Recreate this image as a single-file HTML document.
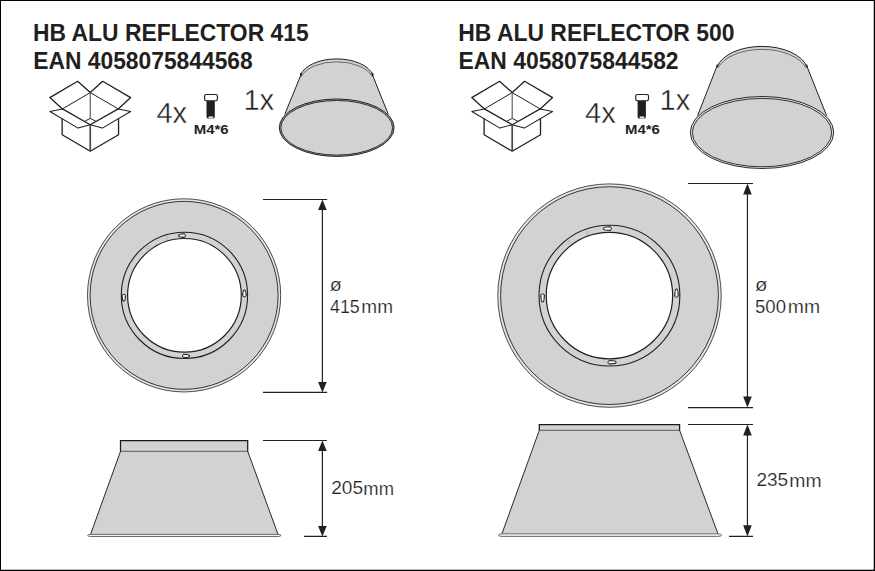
<!DOCTYPE html>
<html>
<head>
<meta charset="utf-8">
<title>HB ALU REFLECTOR</title>
<style>
html,body{margin:0;padding:0;background:#fff;}
body{width:875px;height:571px;overflow:hidden;font-family:"Liberation Sans",sans-serif;}
svg{display:block;}
text{font-family:"Liberation Sans",sans-serif;fill:#231f20;}
.h{font-weight:bold;font-size:23.4px;}
.q{font-size:27.8px;}
.d{font-size:18.3px;}
.m{font-weight:bold;font-size:12px;}
.ln{stroke:#231f20;stroke-width:1.2;fill:none;}
.g{fill:#d1d2d4;}
</style>
</head>
<body>
<svg width="875" height="571" viewBox="0 0 875 571">
<defs>
  <!-- open cardboard box icon, centre x = 0 -->
  <g id="box" fill="none" stroke="#231f20" stroke-linejoin="round" stroke-linecap="round">
    <path stroke-width="1.3" d="M0,92.6 L-12.6,81.3 L-40.4,97.6 L-27.8,108.9 L0,124.7 L28,108.9 L40.4,97.6 L12.4,81.3 Z"/>
    <path stroke-width="1" d="M-27.8,108.9 L0,92.6 L28,108.9"/>
    <path stroke-width="1.05" d="M-27.8,108.9 L-40.4,111.5 L-12.2,128.1 L0,124.7 L12.1,128.1 L40.4,111.5 L28,108.9"/>
    <path stroke-width="1" d="M-5.2,121.1 L0,118.4 L5.3,121.1"/>
    <path stroke-width="1.3" d="M-28.1,118.9 L-28.1,134.8 L0,151.2 L28.3,134.8 L28.3,118.9"/>
    <path stroke-width="1.15" stroke="#5a5a5c" stroke-linecap="butt" d="M0,92.8 L0,118.4"/>
    <path stroke-width="1.7" stroke="#4a4a4c" stroke-linecap="butt" d="M0,124.9 L0,151"/>
  </g>
  <!-- screw icon, centre x = 0 -->
  <g id="screw">
    <path d="M-4.5,100.6 H3.8 V116.4 Q3.8,118.6 1.9,118.6 H-2.6 Q-4.5,118.6 -4.5,116.4 Z" fill="#231f20"/>
    <path d="M-2.5,116.5 H2.2 V117.3 Q2.2,118.2 1.3,118.2 H-1.6 Q-2.5,118.2 -2.5,117.3 Z" fill="#f0f0f0"/>
    <rect x="-6.4" y="94.5" width="12.8" height="6.2" rx="1.6" ry="1.6" fill="#fff" stroke="#231f20" stroke-width="1.15"/>
  </g>
  <!-- key-hole slot, wide end towards +x -->
  <g id="slot">
    <path d="M-2.4,-1.2 L2.2,-1.9 A2.1,2.1 0 0 1 2.2,1.9 L-2.4,1.2 A1.2,1.2 0 0 1 -2.4,-1.2 Z" fill="#97989b" stroke="#231f20" stroke-width="1"/>
    <path d="M-1.6,0 L2.1,0" stroke="#fff" stroke-width="1.5" stroke-linecap="round" fill="none"/>
  </g>
  <g id="slotb">
    <path d="M-3,-1.2 L2.8,-1.9 A2.1,2.1 0 0 1 2.8,1.9 L-3,1.2 A1.2,1.2 0 0 1 -3,-1.2 Z" fill="#97989b" stroke="#231f20" stroke-width="1"/>
    <path d="M-2.2,0 L2.7,0" stroke="#fff" stroke-width="1.6" stroke-linecap="round" fill="none"/>
  </g>
  <circle id="hole" r="1.25" fill="#f2f2f2" stroke="#6d6e71" stroke-width="0.45"/>
  <!-- dimension arrow heads -->
  <path id="au" d="M0,0 L4.3,10.4 L-4.3,10.4 Z" fill="#231f20"/>
  <path id="au2" d="M0,0 L4.3,11.1 L-4.3,11.1 Z" fill="#231f20"/>
  <path id="ad2" d="M0,0 L4.3,-11.1 L-4.3,-11.1 Z" fill="#231f20"/>
  <path id="ad" d="M0,0 L4.3,-10.4 L-4.3,-10.4 Z" fill="#231f20"/>
</defs>

<rect x="0" y="0" width="875" height="571" fill="#fff"/>

<!-- ============ LEFT : 415 ============ -->
<text transform="translate(33.12,41) scale(0.9766,1)" style="font-size:23.42px;font-weight:bold;">HB ALU REFLECTOR 415</text>
<text transform="translate(33.32,69) scale(0.9743,1)" style="font-size:23.42px;font-weight:bold;">EAN 4058075844568</text>
<text transform="translate(156.40,123) scale(1.0042,1)" style="font-size:28.90px;stroke:#fff;stroke-width:0.4px;">4x</text>
<text transform="translate(193.68,134) scale(1.2435,1)" style="font-size:12.03px;font-weight:bold;">M4*6</text>
<text transform="translate(243.39,110) scale(0.9996,1)" style="font-size:29.16px;stroke:#fff;stroke-width:0.4px;">1x</text>
<text transform="translate(329.68,291) scale(1.1018,1)" style="font-size:17.78px;stroke:#fff;stroke-width:0.2px;">ø</text>
<text transform="translate(330.02,313) scale(0.9386,1)" style="font-size:18.98px;stroke:#fff;stroke-width:0.2px;">415</text>
<text transform="translate(361.31,313) scale(1.0020,1)" style="font-size:19.00px;stroke:#fff;stroke-width:0.2px;">mm</text>
<text transform="translate(331.24,494) scale(1.0249,1)" style="font-size:18.62px;stroke:#fff;stroke-width:0.2px;">205</text>
<text transform="translate(363.34,495) scale(0.9785,1)" style="font-size:18.80px;stroke:#fff;stroke-width:0.2px;">mm</text>

<use href="#box" x="90.25" y="0"/>
<use href="#screw" x="211" y="0"/>

<!-- 3D reflector 415 -->
<g>
  <path class="g" d="M300.7,74.7 A37,20.5 0 0 1 372.7,74.7 L388.2,114.1 A57.4,28.7 0 1 1 284.9,114.1 Z"/>
  <path class="ln" style="stroke-width:1" d="M300.9,75.0 L284.9,114.1 M372.5,75.0 L388.2,114.1"/>
  <path class="ln" style="stroke-width:1" d="M300.7,74.7 A37,20.5 0 0 1 372.7,74.7"/>
  <path class="ln" style="stroke-width:0.8;stroke:#4d4d50" d="M301.5,76.0 A37,20.5 0 0 1 371.9,76.0"/>
  <path class="ln" style="stroke-width:1.7;stroke-linecap:round" d="M300.8,73.5 L300.9,75.6 M372.6,73.5 L372.5,75.6"/>
  <ellipse cx="336.7" cy="127.7" rx="57.4" ry="28.7" fill="#a3a4a7" stroke="#231f20" stroke-width="1.0"/>
  <ellipse cx="336.7" cy="127.8" rx="55.85" ry="27.30" fill="#d1d2d4" stroke="#231f20" stroke-width="0.9"/>
</g>

<!-- ring 415 -->
<g>
  <circle cx="184.1" cy="295.35" r="96.6" fill="#e3e4e5"/>
  <circle class="g" cx="184.1" cy="295.35" r="94.0"/>
  <circle cx="184.45" cy="295.35" r="56.85" fill="#fff"/>
  <circle class="ln" cx="184.1" cy="295.35" r="96.6" style="stroke-width:0.8"/>
  <circle class="ln" cx="184.1" cy="295.35" r="94.0" style="stroke-width:0.9"/>
  <circle class="ln" cx="184.45" cy="295.35" r="63.15" style="stroke-width:1.1"/>
  <circle class="ln" cx="184.45" cy="295.35" r="56.85" style="stroke-width:1.2"/>
  <use href="#slot" transform="translate(182,235.6) rotate(0)"/>
  <use href="#slot" transform="translate(244.4,293.5) rotate(90)"/>
  <use href="#slot" transform="translate(186,356) rotate(180)"/>
  <use href="#slot" transform="translate(123.8,297.6) rotate(270)"/>
  <use href="#hole" x="148.2" y="247.5"/>
  <use href="#hole" x="166.7" y="237.7"/>
</g>
<!-- dimension 415 -->
<g class="ln">
  <path d="M263,199.5 H327.1 M263,392.4 H327.1 M322.4,204 V388"/>
</g>
<use href="#au" x="322.4" y="199.5"/>
<use href="#ad" x="322.4" y="392.4"/>

<!-- side view 415 -->
<g>
  <path class="g" d="M120.5,451.3 H247.7 L278.0,534.3 H90.6 Z"/>
  <path d="M120.5,451.3 L90.6,534.3 M247.7,451.3 L278.0,534.3" fill="none" stroke="#2b2a2b" stroke-width="1"/>
  <rect class="g" x="120.5" y="440.55" width="127.2" height="10.8"/>
  <path d="M120.2,451.3 H248.0" fill="none" stroke="#58595b" stroke-width="1"/>
  <path d="M120.5,451.6 V440.55 H247.7 V451.6" fill="none" stroke="#1a1718" stroke-width="1.25" stroke-linejoin="miter"/>
  <path d="M87.6,535.45 Q88.19999999999999,534.4 90.6,534.4 H278.0 Q280.4,534.4 281.0,535.45 Q280.4,536.5 278.0,536.5 H90.6 Q88.19999999999999,536.5 87.6,535.45 Z" fill="#f1f1f2" stroke="#58595b" stroke-width="0.9"/>
</g>
<g class="ln">
  <path d="M263,440.5 H326.9 M304,536.45 H326.9 M322.4,445 V532"/>
</g>
<use href="#au" x="322.4" y="440.5"/>
<use href="#ad" x="322.4" y="536.45"/>

<!-- ============ RIGHT : 500 ============ -->
<text transform="translate(458.32,41) scale(0.9784,1)" style="font-size:23.42px;font-weight:bold;">HB ALU REFLECTOR 500</text>
<text transform="translate(458.54,69) scale(0.9774,1)" style="font-size:23.42px;font-weight:bold;">EAN 4058075844582</text>
<text transform="translate(585.05,123) scale(1.0201,1)" style="font-size:28.61px;stroke:#fff;stroke-width:0.4px;">4x</text>
<text transform="translate(625.08,134) scale(1.2087,1)" style="font-size:12.32px;font-weight:bold;">M4*6</text>
<text transform="translate(659.53,110) scale(0.9961,1)" style="font-size:29.16px;stroke:#fff;stroke-width:0.4px;">1x</text>
<text transform="translate(755.02,291) scale(1.1373,1)" style="font-size:17.96px;stroke:#fff;stroke-width:0.2px;">ø</text>
<text transform="translate(754.97,313) scale(0.9804,1)" style="font-size:18.99px;stroke:#fff;stroke-width:0.2px;">500</text>
<text transform="translate(787.85,313) scale(1.0155,1)" style="font-size:19.09px;stroke:#fff;stroke-width:0.2px;">mm</text>
<text transform="translate(756.38,486) scale(1.0218,1)" style="font-size:18.62px;stroke:#fff;stroke-width:0.2px;">235</text>
<text transform="translate(789.34,487) scale(1.0326,1)" style="font-size:18.80px;stroke:#fff;stroke-width:0.2px;">mm</text>

<use href="#box" x="512.2" y="0"/>
<use href="#screw" x="642.1" y="0"/>

<!-- 3D reflector 500 -->
<g>
  <path class="g" d="M717.2,66.5 A46,26 0 0 1 806.8,66.5 L826.6,115.6 A71.7,36.0 0 1 1 697.6,115.6 Z"/>
  <path class="ln" style="stroke-width:1" d="M717.0,66.0 L697.6,115.6 M806.8,66.0 L826.6,115.6"/>
  <path class="ln" style="stroke-width:1" d="M717.2,66.5 A46,26 0 0 1 806.8,66.5"/>
  <path class="ln" style="stroke-width:0.8;stroke:#4d4d50" d="M718.0,67.8 A46,26 0 0 1 806.0,67.8"/>
  <path class="ln" style="stroke-width:1.7;stroke-linecap:round" d="M717.3,65.3 L717.0,66.6 M806.7,65.3 L806.8,66.6"/>
  <ellipse cx="762.0" cy="132.5" rx="71.7" ry="36.0" fill="#e2e3e4" stroke="#231f20" stroke-width="0.95"/>
  <ellipse cx="762.0" cy="132.6" rx="69.70" ry="34.20" fill="#d1d2d4" stroke="#231f20" stroke-width="0.9"/>
</g>

<!-- ring 500 -->
<g>
  <circle cx="609.5" cy="295.6" r="111.7" fill="#e3e4e5"/>
  <circle class="g" cx="609.5" cy="295.6" r="108.9"/>
  <circle cx="609.45" cy="295.6" r="63.2" fill="#fff"/>
  <circle class="ln" cx="609.5" cy="295.6" r="111.7" style="stroke-width:0.8"/>
  <circle class="ln" cx="609.5" cy="295.6" r="108.9" style="stroke-width:0.9"/>
  <circle class="ln" cx="609.45" cy="295.6" r="70.4" style="stroke-width:1.1"/>
  <circle class="ln" cx="609.45" cy="295.6" r="63.2" style="stroke-width:1.2"/>
  <use href="#slotb" transform="translate(607.4,228.6) rotate(0)"/>
  <use href="#slotb" transform="translate(676.5,293.2) rotate(90)"/>
  <use href="#slotb" transform="translate(612,362.3) rotate(180)"/>
  <use href="#slotb" transform="translate(542.6,297.9) rotate(270)"/>
  <use href="#hole" x="569.2" y="242.2"/>
  <use href="#hole" x="587.6" y="233"/>
</g>
<g class="ln">
  <path d="M688,183.5 H753 M688,407.55 H753 M747.45,188 V403"/>
</g>
<use href="#au2" x="747.45" y="183.5"/>
<use href="#ad2" x="747.45" y="407.55"/>

<!-- side view 500 -->
<g>
  <path class="g" d="M539.3,430.3 H679.6 L717.9,533.6 H502.0 Z"/>
  <path d="M539.3,430.3 L502.0,533.6 M679.6,430.3 L717.9,533.6" fill="none" stroke="#2b2a2b" stroke-width="1"/>
  <rect class="g" x="539.3" y="424.6" width="140.3" height="5.7"/>
  <path d="M539.0,430.3 H679.9" fill="none" stroke="#58595b" stroke-width="1"/>
  <path d="M539.3,430.6 V424.6 H679.6 V430.6" fill="none" stroke="#1a1718" stroke-width="1.25" stroke-linejoin="miter"/>
  <path d="M498.3,535.0999999999999 Q498.90000000000003,533.8 502.0,533.8 H717.9 Q721.1999999999999,533.8 721.8,535.0999999999999 Q721.1999999999999,536.4 717.9,536.4 H502.0 Q498.90000000000003,536.4 498.3,535.0999999999999 Z" fill="#f1f1f2" stroke="#58595b" stroke-width="0.9"/>
</g>
<g class="ln">
  <path d="M688,424.5 H753 M729,536.45 H753 M747.45,430 V532"/>
</g>
<use href="#au2" x="747.45" y="424.5"/>
<use href="#ad2" x="747.45" y="536.45"/>

<!-- outer frame -->
<path d="M0,0 H875 V571 H0 Z M1,1 V569.75 H873.75 V1 Z" fill="#000" fill-rule="evenodd"/>
</svg>
</body>
</html>
